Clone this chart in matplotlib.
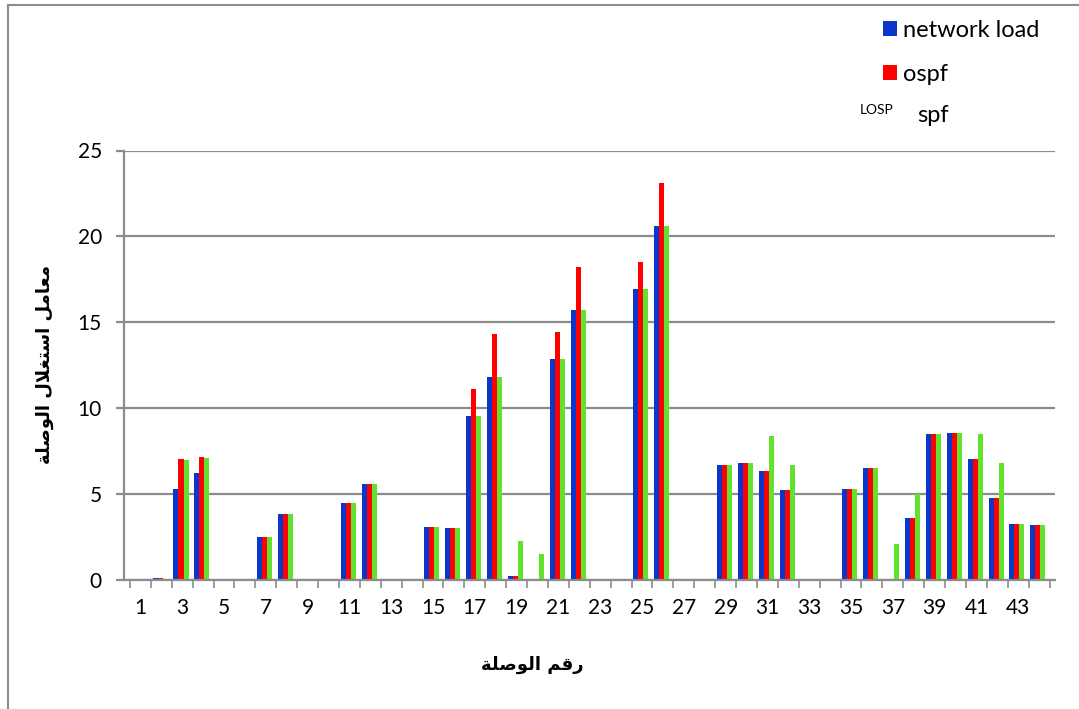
import matplotlib
matplotlib.use("Agg")
import matplotlib.pyplot as plt
from matplotlib.lines import Line2D
import numpy as np

links = list(range(1, 45))
network_load = [0, 0.1, 5.3, 6.2, 0, 0, 2.5, 3.8, 0, 0, 4.45, 5.55, 0, 0, 3.05,
                3.0, 9.5, 11.8, 0.2, 0, 12.85, 15.7, 0, 0.05, 16.9, 20.6, 0, 0.05,
                6.7, 6.8, 6.3, 5.2, 0, 0, 5.25, 6.5, 0, 3.6, 8.45, 8.55, 7.0, 4.75,
                3.25, 3.2]
ospf = [0, 0.1, 7.0, 7.15, 0, 0, 2.5, 3.8, 0, 0, 4.45, 5.55, 0, 0, 3.05,
        3.0, 11.1, 14.3, 0.2, 0, 14.45, 18.2, 0, 0.05, 18.5, 23.1, 0, 0.05,
        6.7, 6.8, 6.3, 5.2, 0, 0, 5.25, 6.5, 0, 3.6, 8.45, 8.55, 7.0, 4.75,
        3.25, 3.2]
losp_spf = [0, 0, 6.95, 7.1, 0, 0, 2.5, 3.8, 0, 0, 4.45, 5.55, 0, 0, 3.05,
            3.0, 9.5, 11.8, 2.25, 1.5, 12.85, 15.7, 0, 0, 16.9, 20.6, 0, 0,
            6.7, 6.8, 8.35, 6.65, 0, 0, 5.25, 6.5, 2.05, 5.0, 8.45, 8.55, 8.45, 6.8,
            3.25, 3.2]
tick_labels = [str(k) for k in links[::2]]

# Arabic labels, pre-shaped (presentation forms, visual order)
# "رقم الوصلة"
xlabel_ar = "\ufe94\ufee0\ufebb\ufeee\ufedf\ufe8d \ufee2\ufed7\ufead"
# "معامل استغلال الوصلة"
ylabel_ar = ("\ufe94\ufee0\ufebb\ufeee\ufedf\ufe8d \ufedd\ufefc\ufed0\ufe98\ufeb3\ufe8d "
             "\ufede\ufee3\ufe8e\ufecc\ufee3")

BLUE = "#0a36cc"
RED = "#ff0000"
GREEN = "#62e22c"
GRAY = "#8c8c8c"

plt.rcParams['font.family'] = ['Lato', 'DejaVu Sans']

W, H = 1079, 709
fig = plt.figure(figsize=(W / 100, H / 100), dpi=100)
ax = fig.add_axes([124 / W, 1 - 579.5 / H, (1055 - 124) / W, (579.5 - 150.5) / H])

x = np.array(links)
bw = 0.24
b1 = ax.bar(x - 0.3, network_load, bw, color=BLUE, label="network load")
b2 = ax.bar(x - 0.06, ospf, bw, color=RED, label="ospf")
b3 = ax.bar(x + 0.18, losp_spf, bw, color=GREEN)

ax.set_xlim(0.213, 44.76)
ax.set_ylim(0, 25)
ax.set_yticks([0, 5, 10, 15, 20, 25])
ax.yaxis.grid(True, color=GRAY, linewidth=1.6)
ax.set_axisbelow(True)

ax.set_xticks(x[::2])
ax.set_xticklabels(tick_labels)
ax.set_xticks(np.arange(0.5, 45, 1), minor=True)
ax.tick_params(axis='x', which='major', length=0, pad=13, labelsize=15)
ax.tick_params(axis='x', which='minor', length=6, width=1.2, color=GRAY)
ax.tick_params(axis='y', length=6, width=1.6, color=GRAY, labelsize=15, pad=10)

for s in ['top', 'right']:
    ax.spines[s].set_visible(False)
ax.spines['left'].set_color(GRAY)
ax.spines['left'].set_linewidth(1.6)
ax.spines['bottom'].set_color(GRAY)
ax.spines['bottom'].set_linewidth(1.6)

fig.text(532 / W, 1 - 665 / H, xlabel_ar, family='DejaVu Sans', weight='bold',
         fontsize=13, ha='center', va='center')
fig.text(45 / W, 1 - 364 / H, ylabel_ar, family='DejaVu Sans', weight='bold',
         fontsize=13, ha='center', va='center', rotation=90)

leg = fig.legend(handles=[b1, b2], loc='upper left',
                 bbox_to_anchor=(862 / W, 1 + 1 / H), frameon=False,
                 fontsize=17, handlelength=0.6, handleheight=0.6,
                 handletextpad=0.25, labelspacing=0.95)
fig.text(860 / W, 1 - 110 / H, "LOSP", fontsize=10, va='center', ha='left')
fig.text(917 / W, 1 - 116 / H, "spf", fontsize=17, va='center', ha='left')

# outer chart frame (top and left edges visible)
fig.add_artist(Line2D([8 / W, 1], [1 - 4.5 / H, 1 - 4.5 / H], color=GRAY, lw=1.5))
fig.add_artist(Line2D([8 / W, 8 / W], [0, 1 - 4.5 / H], color=GRAY, lw=1.5))

fig.savefig("out.png", dpi=100)
